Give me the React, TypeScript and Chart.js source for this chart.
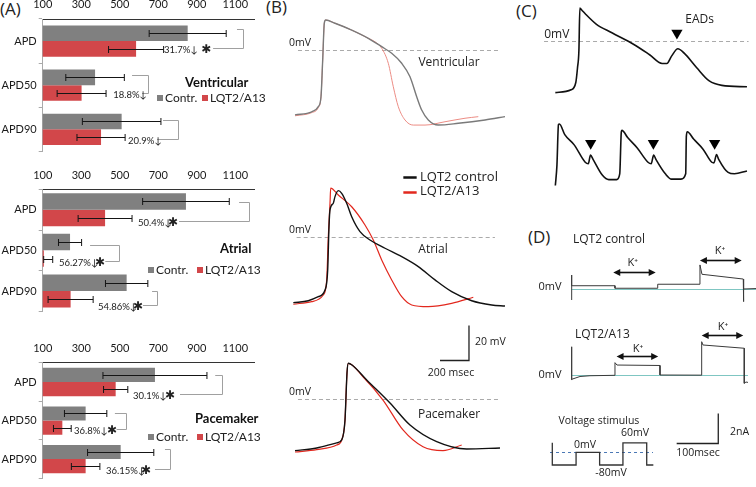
import React, { useEffect, useRef } from 'react';
import { Chart, registerables } from 'chart.js';

Chart.register(...registerables);

// ---------------- Panel A data ----------------
const apdCategories = ['APD', 'APD50', 'APD90'];
const apdAxisTicks = [100, 300, 500, 700, 900, 1100];
const legendNames = ['Contr.', 'LQT2/A13'];

const ventricularControl = [853, 372, 510];
const ventricularControlSD = [200, 152, 204];
const ventricularA13 = [585, 302, 403];
const ventricularA13SD = [143, 127, 125];
const ventricularChange = ['31.7%↓', '18.8%↓', '20.9%↓'];
const ventricularSignificant = [true, false, false];

const atrialControl = [844, 242, 536];
const atrialControlSD = [225, 60, 110];
const atrialA13 = [424, 106, 245];
const atrialA13SD = [140, 46, 117];
const atrialChange = ['50.4%↓', '56.27%↓', '54.86%↓'];
const atrialSignificant = [true, true, true];

const pacemakerControl = [683, 323, 505];
const pacemakerControlSD = [270, 110, 172];
const pacemakerA13 = [479, 202, 323];
const pacemakerA13SD = [63, 46, 74];
const pacemakerChange = ['30.1%↓', '36.8%↓', '36.15%↓'];
const pacemakerSignificant = [true, true, true];

// ---------------- Panel B data (time ms, voltage mV) ----------------
const ventControlTrace = [[34.5,-37.1],[149.7,-35.3],[195.3,-32.4],[213.9,-26.7],[225.6,-5.7],[236.7,15.3],[246.3,17.1],[310.5,15.3],[425.7,11.4],[540.3,6.7],[632.7,1.9],[701.7,-1.9],[770.7,-7.6],[828,-15.3],[874.2,-26.7],[908.7,-34.3],[954.3,-40.0],[1023.3,-42.9],[1161.3,-41.9],[1345.5,-40.0],[1483.5,-38.1]];
const ventA13Trace = [[34.5,-37.6],[149.7,-35.8],[195.3,-32.9],[213.9,-26.7],[225.6,-5.7],[236.7,15.3],[246.3,17.1],[310.5,15.3],[425.7,11.4],[540.3,6.7],[586.5,4.7],[632.7,1.0],[678.3,-7.6],[712.8,-21.0],[747.3,-32.4],[793.5,-40.0],[850.8,-42.9],[931.5,-42.9],[1069.5,-41.0],[1207.5,-39.0],[1299.3,-38.1]];
const atrialControlTrace = [[22.8,-37.7],[126.3,-36.6],[195.3,-34.3],[241.5,-30.5],[260.1,-19.0],[269.1,5.7],[276,15.3],[298.8,19.1],[310.5,22.9],[333.3,26.3],[356.7,24.8],[391.2,19.1],[425.7,11.4],[483,2.9],[552,-1.9],[655.5,-6.6],[770.7,-11.4],[885.3,-17.1],[1000.5,-24.7],[1115.7,-31.4],[1253.7,-36.6],[1391.7,-39.0],[1483.5,-39.6]];
const atrialA13Trace = [[22.8,-38.6],[149.7,-37.1],[229.8,-33.3],[253.2,-24.7],[264.3,0],[276,19.1],[280.8,27.7],[333.3,23.8],[425.7,17.1],[517.5,6.7],[574.8,-1.9],[632.7,-13.3],[701.7,-24.7],[770.7,-34.3],[839.7,-39.0],[954.3,-40.0],[1115.7,-38.1],[1264.8,-34.6]];
const paceControlTrace = [[34.5,-29.5],[184.2,-28.0],[322.2,-25.1],[356.7,-23.4],[379.5,-12.0],[393.3,14.9],[402.3,20.4],[427.8,19.4],[529.2,10.9],[690,-2.3],[828,-14.9],[1012.2,-24.4],[1219.2,-28.6],[1449,-28.0]];
const paceA13Trace = [[34.5,-30.3],[184.2,-28.9],[322.2,-26.3],[356.7,-23.4],[379.5,-12.0],[393.3,14.9],[402.3,20.4],[503.7,12.7],[641.7,-0.6],[779.7,-17.7],[917.7,-27.3],[1055.7,-29.5],[1184.7,-26.3]];

// ---------------- Panel C data ----------------
const eadSingleTrace = [[34.5,-33.7],[149.7,-31.8],[184.2,-27.1],[196.7,-17.5],[207,-6.1],[213.9,21.5],[227.7,20.2],[253.2,17.7],[333.3,11.0],[448.5,5.3],[609.3,-2.3],[724.5,-9.0],[816.3,-14.7],[850.8,-14.7],[885.3,-9.9],[931.5,-5.1],[977.7,-8.0],[1069.5,-17.5],[1161.3,-26.1],[1253.7,-29.0],[1437.3,-29.9]];
const eadTrainTrace = [[34.5,-22.9],[46.2,-9.5],[57.3,17.1],[64.2,17.5],[103.5,10.5],[172.5,3.8],[253.2,-7.6],[276,-8.6],[291.9,-2.9],[310.5,-5.7],[379.5,-16.2],[425.7,-19.0],[483,-19.0],[505.8,-15.2],[517.5,12.4],[522.3,13.3],[563.7,8.6],[632.7,1.9],[712.8,-7.6],[736.2,-8.6],[754.2,-2.9],[770.7,-5.7],[839.7,-15.2],[885.3,-18.7],[954.3,-18.7],[988.8,-15.2],[993.6,9.5],[1000.5,12.4],[1046.7,7.6],[1115.7,1.0],[1179.9,-7.6],[1195.8,-8.0],[1214.4,-2.5],[1230.3,-5.7],[1299.3,-14.3],[1345.5,-15.2],[1437.3,-13.3]];
const eadMarkersSingle = [[924.6,5.2]];
const eadMarkersTrain = [[293.3,4.8],[752.1,4.8],[1200.6,4.8]];

// ---------------- Panel D data (time ms, current nA) ----------------
const currentControlTrace = [[16.1,-0.72],[16.1,0.96],[16.1,0.24],[120.2,0.24],[120.2,0.07],[222.9,0.07],[222.9,0.34],[324.5,0.34],[324.5,1.64],[329.3,1.01],[428.6,0.69],[428.6,-0.83],[430.3,0.02],[459.2,0.05]];
const currentA13Trace = [[16.1,-0.34],[16.1,1.90],[16.1,-0.29],[36.1,-0.10],[60.1,-0.05],[120.2,-0.02],[120.2,0.83],[125,0.67],[228.4,0.64],[228.4,0],[328.6,-0.01],[328.6,2.24],[331.7,2.02],[431,1.80],[431,-0.56],[435.1,-0.47],[439.9,-0.50]];
const stimulusSteps = [[16,60],[16,-80],[120,-80],[120,0],[223,0],[223,-80],[325,-80],[325,60],[429,60],[429,-80],[458,-80]];

const GRAY = '#808080';
const RED = '#d2474a';
const AFONT = 'Lato, "DejaVu Sans", sans-serif';
const BFONT = '"Open Sans", "DejaVu Sans", sans-serif';

// ---------------- helpers ----------------
const errorBarPlugin = {
  id: 'errbars',
  afterDatasetsDraw(chart: any) {
    const ctx = chart.ctx;
    const xs = chart.scales.x;
    const area = chart.chartArea;
    chart.data.datasets.forEach((ds: any, di: number) => {
      const meta = chart.getDatasetMeta(di);
      meta.data.forEach((bar: any, i: number) => {
        const v = ds.data[i];
        const sd = ds.sd[i];
        const raw1 = xs.getPixelForValue(v - sd);
        const x1 = Math.max(area.left + 1, raw1);
        const x2 = xs.getPixelForValue(v + sd);
        const y = Math.round(bar.y) + 0.5;
        ctx.save();
        ctx.strokeStyle = '#151515';
        ctx.lineWidth = 1;
        ctx.beginPath();
        ctx.moveTo(x1, y); ctx.lineTo(x2, y);
        ctx.moveTo(x1, y - 3.5); ctx.lineTo(x1, y + 3.5);
        ctx.moveTo(x2, y - 3.5); ctx.lineTo(x2, y + 3.5);
        ctx.stroke();
        ctx.restore();
      });
    });
  },
};

function barAnnPlugin(cfg: any) {
  return {
    id: 'barAnn',
    afterDatasetsDraw(chart: any) {
      const ctx = chart.ctx;
      const xs = chart.scales.x;
      const ys = chart.scales.y;
      ctx.save();
      cfg.brackets.forEach((b: any, i: number) => {
        const yc = ys.getPixelForValue(i);
        const yt = Math.round(yc + b.dyTop) + 0.5;
        const yb = Math.round(yc + b.dyBottom) + 0.5;
        const xa = xs.getPixelForValue(b.topFrom);
        const xr = Math.round(xs.getPixelForValue(b.right)) + 0.5;
        const xb = xs.getPixelForValue(b.bottomTo);
        ctx.strokeStyle = '#a0a0a0';
        ctx.lineWidth = 1;
        ctx.beginPath();
        ctx.moveTo(xa, yt); ctx.lineTo(xr, yt); ctx.lineTo(xr, yb); ctx.lineTo(xb, yb);
        ctx.stroke();
        ctx.fillStyle = '#222';
        ctx.font = '9.5px ' + AFONT;
        ctx.textAlign = 'left';
        ctx.textBaseline = 'middle';
        ctx.fillText(cfg.change[i], xs.getPixelForValue(b.textAt), yb + 1);
        if (cfg.sig[i]) {
          ctx.font = 'bold 12px "DejaVu Sans", sans-serif';
          ctx.textAlign = 'center';
          ctx.fillText('✱', xs.getPixelForValue(b.starAt), yb + 1);
        }
      });
      ctx.fillStyle = '#111';
      ctx.font = 'bold 13px ' + AFONT;
      ctx.textAlign = 'left';
      ctx.textBaseline = 'middle';
      ctx.fillText(cfg.title, cfg.titleX, cfg.titleY);
      ctx.font = '12px ' + AFONT;
      const colors = [GRAY, RED];
      legendNames.forEach((name, k) => {
        const sx = cfg.legendX[k];
        ctx.fillStyle = colors[k];
        ctx.fillRect(sx, cfg.legendY - 3, 6, 6);
        ctx.fillStyle = '#222';
        ctx.fillText(name, sx + 8, cfg.legendY + 0.5);
      });
      ctx.restore();
    },
  };
}

function buildBarChart(canvas: HTMLCanvasElement, cfg: any) {
  return new Chart(canvas, {
    type: 'bar',
    data: {
      labels: apdCategories,
      datasets: [
        { label: legendNames[0], data: cfg.control, sd: cfg.controlSD, backgroundColor: GRAY, categoryPercentage: cfg.catPct, barPercentage: 1 } as any,
        { label: legendNames[1], data: cfg.a13, sd: cfg.a13SD, backgroundColor: RED, categoryPercentage: cfg.catPct, barPercentage: 1 } as any,
      ],
    },
    options: {
      indexAxis: 'y',
      animation: false,
      responsive: false,
      events: [],
      layout: { padding: { left: 0, right: cfg.padRight, top: 0, bottom: cfg.padBottom } },
      plugins: { legend: { display: false }, tooltip: { enabled: false } },
      scales: {
        x: {
          position: 'top',
          min: 100,
          max: 1200,
          afterBuildTicks: (s: any) => { s.ticks = apdAxisTicks.map((v) => ({ value: v })); },
          afterFit: (s: any) => { s.height = cfg.axisHeight; },
          grid: { drawOnChartArea: false, drawTicks: false },
          border: { color: '#333', width: 1 },
          ticks: { padding: 7.5, color: '#1a1a1a', font: { family: AFONT, size: 11 }, callback: (v: any) => String(v) },
        },
        y: {
          afterFit: (s: any) => { s.width = 42.7; },
          grid: { drawOnChartArea: false, tickLength: 4, color: '#aaa' },
          border: { color: '#aaa', width: 1 },
          ticks: { padding: 2, color: '#1a1a1a', font: { family: AFONT, size: 11 } },
        },
      },
    } as any,
    plugins: [errorBarPlugin, barAnnPlugin(cfg)],
  });
}

function drawOps(chart: any, ops: any[]) {
  const ctx = chart.ctx;
  const X = (v: number) => chart.scales.x.getPixelForValue(v);
  const Y = (v: number) => chart.scales.y.getPixelForValue(v);
  ctx.save();
  for (const o of ops) {
    if (o.k === 'text') {
      ctx.font = o.font;
      ctx.fillStyle = o.color || '#222';
      ctx.textAlign = o.align || 'center';
      ctx.textBaseline = 'middle';
      ctx.fillText(o.s, X(o.x), Y(o.y));
    } else if (o.k === 'path') {
      ctx.strokeStyle = o.color;
      ctx.lineWidth = o.w;
      ctx.setLineDash(o.dash || []);
      ctx.beginPath();
      o.pts.forEach((p: number[], j: number) => {
        const px = X(p[0]);
        const py = Math.round(Y(p[1])) + 0.5;
        if (j === 0) ctx.moveTo(px, py); else ctx.lineTo(px, py);
      });
      ctx.stroke();
      ctx.setLineDash([]);
    } else if (o.k === 'darrow') {
      const x1 = X(o.x1), x2 = X(o.x2), y = Math.round(Y(o.y)) + 0.5;
      const h = 7, hw = 3.5;
      ctx.strokeStyle = '#111';
      ctx.fillStyle = '#111';
      ctx.lineWidth = 1.6;
      ctx.beginPath(); ctx.moveTo(x1 + h - 1, y); ctx.lineTo(x2 - h + 1, y); ctx.stroke();
      ctx.beginPath(); ctx.moveTo(x1, y); ctx.lineTo(x1 + h, y - hw); ctx.lineTo(x1 + h, y + hw); ctx.closePath(); ctx.fill();
      ctx.beginPath(); ctx.moveTo(x2, y); ctx.lineTo(x2 - h, y - hw); ctx.lineTo(x2 - h, y + hw); ctx.closePath(); ctx.fill();
    }
  }
  ctx.restore();
}

function annPlugin(ops: any[]) {
  return {
    id: 'ann',
    beforeDatasetsDraw(chart: any) { drawOps(chart, ops.filter((o) => o.under)); },
    afterDatasetsDraw(chart: any) { drawOps(chart, ops.filter((o) => !o.under)); },
  };
}

function line(pts: number[][], color: string, width: number, smooth: boolean) {
  return {
    data: pts.map((p) => ({ x: p[0], y: p[1] })),
    borderColor: color,
    borderWidth: width,
    pointRadius: 0,
    fill: false,
    tension: 0,
    cubicInterpolationMode: smooth ? 'monotone' : 'default',
  } as any;
}

function markers(pts: number[][]) {
  return {
    data: pts.map((p) => ({ x: p[0], y: p[1] })),
    showLine: false,
    pointStyle: 'triangle',
    rotation: 180,
    pointRadius: 6.5,
    pointBackgroundColor: '#000',
    pointBorderColor: '#000',
    pointBorderWidth: 0,
  } as any;
}

function buildTrace(canvas: HTMLCanvasElement, cfg: any) {
  return new Chart(canvas, {
    type: 'line',
    data: { datasets: cfg.datasets },
    options: {
      animation: false,
      responsive: false,
      events: [],
      layout: { padding: 0 },
      plugins: { legend: { display: false }, tooltip: { enabled: false } },
      scales: {
        x: { type: 'linear', display: false, min: cfg.x[0], max: cfg.x[1] },
        y: { type: 'linear', display: false, min: cfg.y[0], max: cfg.y[1] },
      },
    } as any,
    plugins: [annPlugin(cfg.ops)],
  });
}

function ChartBox({ left, top, width, height, build }: any) {
  const ref = useRef<HTMLCanvasElement>(null);
  useEffect(() => {
    const chart = build(ref.current!);
    return () => chart.destroy();
  }, []);
  return (
    <canvas
      ref={ref}
      width={width}
      height={height}
      style={{ position: 'absolute', left, top, width, height }}
    />
  );
}

const dash0 = (a: number, b: number) => ({ k: 'path', under: true, pts: [[a, 0], [b, 0]], color: '#aaaaaa', w: 1, dash: [4, 3] });
const t = (s: string, x: number, y: number, font: string, align = 'center') => ({ k: 'text', s, x, y, font, align });

export default function App() {
  useEffect(() => {
    document.body.style.margin = '0';
  }, []);

  const f105 = '10.5px ' + BFONT;
  const f12 = '12px ' + BFONT;
  const f13 = '13px ' + BFONT;
  const f11 = '11px ' + BFONT;

  return (
    <div style={{ position: 'relative', width: 756, height: 487, overflow: 'hidden', background: '#fff', fontFamily: BFONT }}>
      <div style={{ position: 'absolute', left: 0, top: -1, fontSize: 17, lineHeight: '20px', color: '#222' }}>(A)</div>
      <div style={{ position: 'absolute', left: 266, top: -3, fontSize: 17, lineHeight: '20px', color: '#222' }}>(B)</div>
      <div style={{ position: 'absolute', left: 516, top: 1, fontSize: 17, lineHeight: '20px', color: '#222' }}>(C)</div>
      <div style={{ position: 'absolute', left: 528, top: 227, fontSize: 17, lineHeight: '20px', color: '#222' }}>(D)</div>

      {/* Panel A */}
      <ChartBox left={0} top={0} width={270} height={160} build={(c: HTMLCanvasElement) => buildBarChart(c, {
        control: ventricularControl, controlSD: ventricularControlSD, a13: ventricularA13, a13SD: ventricularA13SD,
        change: ventricularChange, sig: ventricularSignificant, catPct: 0.71, axisHeight: 19, padRight: 15.5, padBottom: 7,
        title: 'Ventricular', titleX: 185, titleY: 83, legendX: [157, 202], legendY: 98,
        brackets: [
          { topFrom: 1109, right: 1140, bottomTo: 985, dyTop: -12.3, dyBottom: 6.7, textAt: 730, starAt: 949 },
          { topFrom: 564, right: 647, bottomTo: 616, dyTop: -10, dyBottom: 8, textAt: 466, starAt: 0 },
          { topFrom: 725, right: 803, bottomTo: 694, dyTop: -9.7, dyBottom: 9.3, textAt: 543, starAt: 0 },
        ],
      })} />
      <ChartBox left={0} top={160} width={270} height={160} build={(c: HTMLCanvasElement) => buildBarChart(c, {
        control: atrialControl, controlSD: atrialControlSD, a13: atrialA13, a13SD: atrialA13SD,
        change: atrialChange, sig: atrialSignificant, catPct: 0.81, axisHeight: 29.3, padRight: 15.5, padBottom: 5,
        title: 'Atrial', titleX: 220, titleY: 89, legendX: [148, 197], legendY: 110,
        brackets: [
          { topFrom: 1120, right: 1172, bottomTo: 808, dyTop: -7.6, dyBottom: 11.4, textAt: 595, starAt: 777 },
          { topFrom: 346, right: 497, bottomTo: 425, dyTop: -4.9, dyBottom: 10.8, textAt: 185, starAt: 398 },
          { topFrom: 668, right: 694, bottomTo: 621, dyTop: -0.1, dyBottom: 13.9, textAt: 387, starAt: 595 },
        ],
      })} />
      <ChartBox left={0} top={320} width={270} height={167} build={(c: HTMLCanvasElement) => buildBarChart(c, {
        control: pacemakerControl, controlSD: pacemakerControlSD, a13: pacemakerA13, a13SD: pacemakerA13SD,
        change: pacemakerChange, sig: pacemakerSignificant, catPct: 0.735, axisHeight: 42.7, padRight: 15.5, padBottom: 2,
        title: 'Pacemaker', titleX: 195, titleY: 99, legendX: [148, 197], legendY: 117,
        brackets: [
          { topFrom: 996, right: 1030, bottomTo: 813, dyTop: -7.1, dyBottom: 11.9, textAt: 569, starAt: 761 },
          { topFrom: 475, right: 531, bottomTo: 484, dyTop: -7.9, dyBottom: 8.8, textAt: 263, starAt: 460 },
          { topFrom: 735, right: 761, bottomTo: 683, dyTop: -9.7, dyBottom: 10.3, textAt: 429, starAt: 636 },
        ],
      })} />

      {/* Panel B */}
      <ChartBox left={280} top={8} width={226} height={124} build={(c: HTMLCanvasElement) => buildTrace(c, {
        x: [-69, 1490.4], y: [-46.86, 24.0],
        datasets: [line(ventControlTrace, '#7a7a7a', 1.4, true), line(ventA13Trace, '#ec8c84', 1, true)],
        ops: [dash0(55, 1449), t('0mV', 69, 4.0, f105), t('Ventricular', 1097, -7.4, f12)],
      })} />
      <ChartBox left={280} top={170} width={226} height={215} build={(c: HTMLCanvasElement) => buildTrace(c, {
        x: [-69, 1490.4], y: [-84.74, 38.11],
        datasets: [line(atrialControlTrace, '#111', 1.4, true), line(atrialA13Trace, '#e2281e', 1.2, true)],
        ops: [
          dash0(46, 1414), t('0mV', 69, 3.8, f105), t('Atrial', 987, -7.6, f12),
          { k: 'path', pts: [[782, 33.9], [874, 33.9]], color: '#111', w: 2.5 },
          { k: 'path', pts: [[782, 25.7], [874, 25.7]], color: '#e2281e', w: 2.5 },
          t('LQT2 control', 897, 33.9, f13, 'left'), t('LQT2/A13', 897, 25.7, f13, 'left'),
          { k: 'path', pts: [[1035, -70.5], [1235, -70.5], [1235, -50.5]], color: '#222', w: 1.3 },
          t('20 mV', 1276, -60.2, f105, 'left'), t('200 msec', 1111, -77.9, f105),
        ],
      })} />
      <ChartBox left={280} top={350} width={226} height={110} build={(c: HTMLCanvasElement) => buildTrace(c, {
        x: [-69, 1490.4], y: [-34.86, 28.0],
        datasets: [line(paceControlTrace, '#111', 1.4, true), line(paceA13Trace, '#e2281e', 1.2, true)],
        ops: [dash0(55, 1449), t('0mV', 69, 4.0, f105), t('Pacemaker', 1097, -9.1, f12)],
      })} />

      {/* Panel C */}
      <ChartBox left={530} top={0} width={226} height={105} build={(c: HTMLCanvasElement) => buildTrace(c, {
        x: [-103.5, 1455.9], y: [-37.54, 22.46],
        datasets: [line(eadSingleTrace, '#111', 1.6, true), markers(eadMarkersSingle)],
        ops: [dash0(-48.3, 1449), t('0mV', 44.9, 4.2, f12), t('EADs', 1090.7, 13.9, f12)],
      })} />
      <ChartBox left={530} top={105} width={226} height={100} build={(c: HTMLCanvasElement) => buildTrace(c, {
        x: [-103.5, 1455.9], y: [-31.4, 25.7],
        datasets: [line(eadTrainTrace, '#111', 1.6, true), markers(eadMarkersTrain)],
        ops: [],
      })} />

      {/* Panel D */}
      <ChartBox left={530} top={228} width={226} height={77} build={(c: HTMLCanvasElement) => buildTrace(c, {
        x: [-84.1, 459.2], y: [-1.057, 4.125],
        datasets: [line(currentControlTrace, '#3a3a3a', 1, false)],
        ops: [
          { k: 'path', under: true, pts: [[16.1, 0], [459.2, 0]], color: '#7fc6c2', w: 1.2 },
          t('LQT2 control', 19.2, 3.32, f12, 'left'), t('0mV', -36.1, 0.17, f11),
          { k: 'darrow', x1: 116, x2: 218, y: 1.14 }, t('K⁺', 162.8, 1.75, f11),
          { k: 'darrow', x1: 324.5, x2: 424.8, y: 1.97 }, t('K⁺', 372.6, 2.58, f11),
        ],
      })} />
      <ChartBox left={530} top={318} width={226} height={142} build={(c: HTMLCanvasElement) => buildTrace(c, {
        x: [-84.1, 459.2], y: [-5.72, 3.836],
        datasets: [line(currentA13Trace, '#3a3a3a', 1, false)],
        ops: [
          { k: 'path', under: true, pts: [[16.1, 0], [439.9, 0]], color: '#7fc6c2', w: 1.2 },
          t('LQT2/A13', 24, 2.69, f12, 'left'), t('0mV', -36.1, 0, f11),
          { k: 'darrow', x1: 124, x2: 224, y: 1.28 }, t('K⁺', 175.5, 1.73, f11),
          { k: 'darrow', x1: 328.6, x2: 428.6, y: 2.69 }, t('K⁺', 379.8, 3.25, f11),
          { k: 'path', pts: [[268.5, -4.56], [368.5, -4.56], [368.5, -2.56]], color: '#222', w: 1.3 },
          t('2nA', 396.7, -3.82, f105, 'left'), t('100msec', 319.7, -5.26, f105),
        ],
      })} />
      <ChartBox left={540} top={412} width={125} height={75} build={(c: HTMLCanvasElement) => buildTrace(c, {
        x: [-37.8, 509], y: [-218.6, 253.9],
        datasets: [line(stimulusSteps, '#333', 1.3, false)],
        ops: [
          { k: 'path', under: true, pts: [[6, 0], [456.5, 0]], color: '#4a78b5', w: 1, dash: [3, 3] },
          t('Voltage stimulus', 220, 197.2, f105), t('0mV', 159.4, 46, f105),
          t('60mV', 377.8, 121.6, f105), t('-80mV', 272.8, -132.3, f105),
        ],
      })} />
    </div>
  );
}
